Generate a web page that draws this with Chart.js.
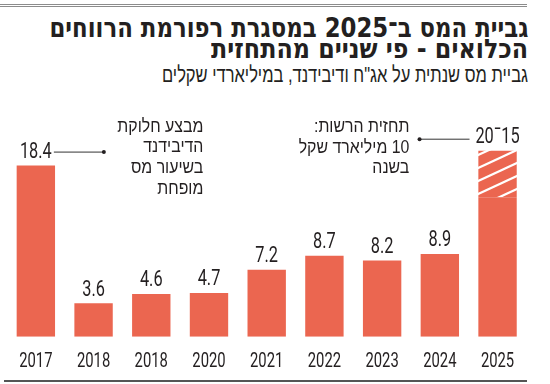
<!DOCTYPE html>
<html lang="he">
<head>
<meta charset="utf-8">
<title>גביית המס ב־2025</title>
<script src="https://cdn.jsdelivr.net/npm/chart.js@4.4.1/dist/chart.umd.min.js"></script>
<style>
  html, body { margin: 0; padding: 0; }
  body {
    width: 550px; height: 384px; overflow: hidden; position: relative; background: #fff;
    font-family: "Liberation Sans", sans-serif; color: #231f20;
  }
  .rule { position: absolute; left: 0; width: 527px; height: 1px; background: #8c8c8c; }
  .rule.bottom { left: 4px; width: 523px; top: 380px; height: 2px; background: #555; }
  .head {
    position: absolute; right: 22px; direction: rtl; white-space: nowrap;
    transform-origin: right center; margin: 0;
  }
  #t1, #t2 { font-family: "DejaVu Sans", sans-serif; font-size: 27px; line-height: 26px; font-weight: bold; }
  #t1 { top: 15px; }
  #t2 { top: 36px; }
  #sub { top: 64px; font-size: 22px; line-height: 22px; font-weight: normal; }
  #chart { position: absolute; left: 0; top: 0; }
</style>
</head>
<body>
<div class="rule" style="top:4px"></div>
<div class="rule" style="top:6px"></div>
<div class="head" id="t1" data-w="479">גביית המס ב־2025 במסגרת רפורמת הרווחים</div>
<div class="head" id="t2" data-w="317">הכלואים - פי שניים מהתחזית</div>
<div class="head" id="sub" data-w="366">גביית מס שנתית על אג"ח ודיבידנד, במיליארדי שקלים</div>
<canvas id="chart" width="550" height="384"></canvas>
<div class="rule bottom"></div>

<script>
// ---- data ----
const years = ['2017', '2018', '2018', '2020', '2021', '2022', '2023', '2024', '2025'];
const collected = [18.4, 3.6, 4.6, 4.7, 7.2, 8.7, 8.2, 8.9, 15];
const forecastRange = [0, 0, 0, 0, 0, 0, 0, 0, 5];
const valueLabels = ['18.4', '3.6', '4.6', '4.7', '7.2', '8.7', '8.2', '8.9', '20\u00AF15'];
const noteLeft = ['מבצע חלוקת', 'הדיבידנד', 'בשיעור מס', 'מופחת'];
const noteRight = ['תחזית הרשות:', '10 מיליארד שקל', 'בשנה'];

const ink = '#231f20';
const barRed = '#eb6650';
const numFont = 'Roboto, "Liberation Sans", sans-serif';
const hebFont = '"Liberation Sans", "DejaVu Sans", sans-serif';

// stretch the heading lines to the widths in the original
document.querySelectorAll('.head').forEach(function(el) {
    const w = el.getBoundingClientRect().width;
    el.style.transform = 'scaleX(' + (parseFloat(el.dataset.w) / w) + ')';
});

// white diagonal stripes on red for the forecast part
function makeHatch(ctx) {
    const c = document.createElement('canvas');
    c.width = 28; c.height = 13;
    const g = c.getContext('2d');
    g.fillStyle = barRed;
    g.fillRect(0, 0, 28, 13);
    g.strokeStyle = '#fff';
    g.lineWidth = 2.2;
    [-1, 0, 1].forEach(function(n) {
        g.beginPath();
        g.moveTo(-28, 26 + n * 13);
        g.lineTo(56, -13 + n * 13);
        g.stroke();
    });
    return ctx.createPattern(c, 'repeat');
}

// the original uses a condensed face, so squeeze the text horizontally
function fillNarrow(ctx, text, x, y, sx) {
    ctx.save();
    ctx.translate(x, y);
    ctx.scale(sx, 1);
    ctx.fillText(text, 0, 0);
    ctx.restore();
}

const labelsPlugin = {
    id: 'barLabels',
    afterDatasetsDraw(chart) {
        const ctx = chart.ctx;
        const xs = chart.scales.x, ys = chart.scales.y;
        const area = chart.chartArea;
        const centers = valueLabels.map(function(t, i) {
            return ys.getPixelForValue(collected[i] + forecastRange[i]) - 13;
        });

        ctx.save();
        ctx.fillStyle = ink;
        ctx.strokeStyle = '#333';
        ctx.lineWidth = 1;

        // year labels under the bars
        ctx.font = '19.5px ' + numFont;
        ctx.textAlign = 'center';
        ctx.textBaseline = 'middle';
        xs.ticks.forEach(function(tk) {
            fillNarrow(ctx, xs.getLabelForValue(tk.value), xs.getPixelForValue(tk.value), area.bottom + 25.5, 0.76);
        });

        // values above the bars
        ctx.font = '21.5px ' + numFont;
        valueLabels.forEach(function(t, i) {
            fillNarrow(ctx, t, xs.getPixelForValue(i), centers[i], 0.76);
        });

        // left note, pointing at 2017
        const x0 = xs.getPixelForValue(0), c0 = centers[0] - 0.5;
        ctx.beginPath();
        ctx.moveTo(x0 + 18, c0);
        ctx.lineTo(x0 + 68, c0);
        ctx.stroke();
        ctx.beginPath();
        ctx.arc(x0 + 68, c0, 2, 0, Math.PI * 2);
        ctx.fill();

        // right note, pointing at 2025
        const last = years.length - 1;
        const x8 = xs.getPixelForValue(last), c8 = centers[last] + 1.5;
        ctx.beginPath();
        ctx.moveTo(x8 - 78, c8);
        ctx.lineTo(x8 - 28, c8);
        ctx.stroke();
        ctx.beginPath();
        ctx.arc(x8 - 78, c8, 2, 0, Math.PI * 2);
        ctx.fill();

        ctx.font = '18.5px ' + hebFont;
        ctx.textAlign = 'right';
        ctx.textBaseline = 'alphabetic';
        ctx.direction = 'rtl';
        const sx = 86 / ctx.measureText(noteLeft[0]).width;
        noteLeft.forEach(function(t, k) {
            fillNarrow(ctx, t, x0 + 167.5, c0 - 20.3 + k * 20.7, sx);
        });
        noteRight.forEach(function(t, k) {
            fillNarrow(ctx, t, x8 - 88.2, c8 - 7 + k * 20.5, sx);
        });
        ctx.restore();
    }
};

const canvas = document.getElementById('chart');
const ctx = canvas.getContext('2d');

new Chart(ctx, {
    type: 'bar',
    data: {
        labels: years,
        datasets: [
            { label: 'גבייה', data: collected, backgroundColor: barRed, stack: 's' },
            { label: 'תחזית', data: forecastRange, backgroundColor: makeHatch(ctx), stack: 's' }
        ]
    },
    options: {
        responsive: false,
        animation: false,
        layout: { padding: { top: 104.2, left: 7, right: 23.6, bottom: 47.3 } },
        plugins: { legend: { display: false }, tooltip: { enabled: false } },
        datasets: { bar: { categoryPercentage: 1, barPercentage: 0.665 } },
        scales: {
            x: {
                stacked: true,
                grid: { display: false, drawTicks: false },
                border: { display: false },
                ticks: { display: false, autoSkip: false }
            },
            y: { stacked: true, display: false, min: 0, max: 25 }
        }
    },
    plugins: [labelsPlugin]
});
</script>
</body>
</html>
